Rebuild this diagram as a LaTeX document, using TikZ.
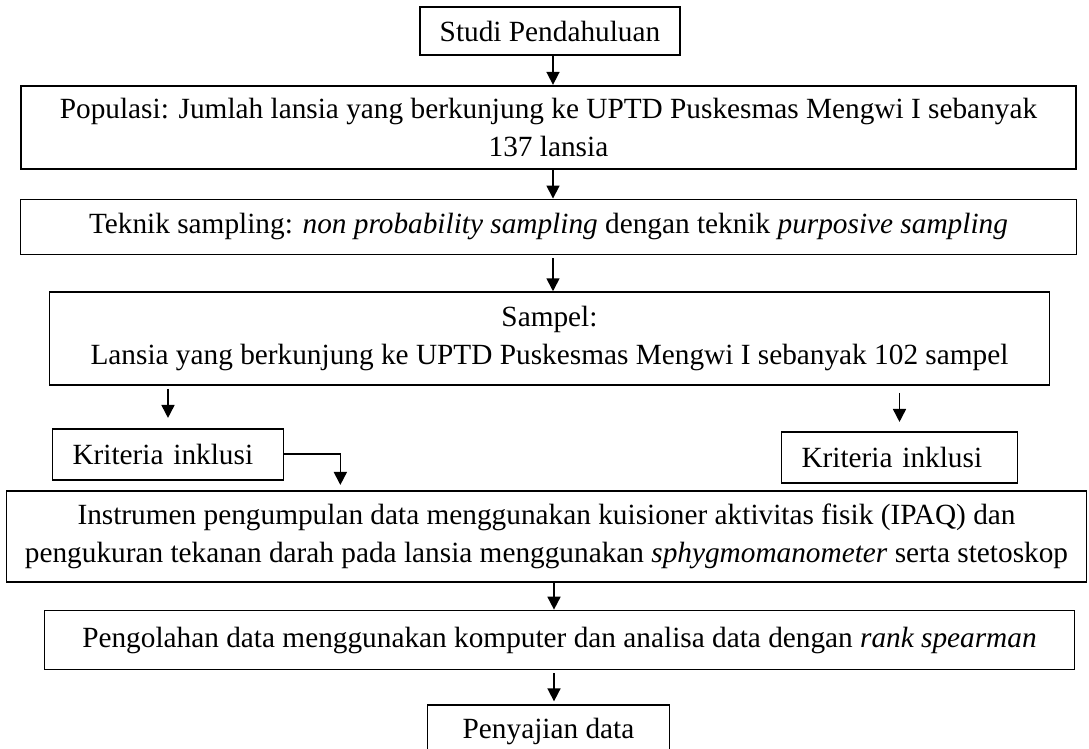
\documentclass[tikz,border=0pt]{standalone}
\usepackage{fontspec}
\setmainfont{Liberation Serif}
\usetikzlibrary{arrows.meta, positioning}
\tikzset{
    box/.style={draw, rectangle, inner sep=4pt, align=center, line width=1.7pt, font=\fontsize{29.3}{38}\selectfont},
    kriteria/.style={draw, rectangle, inner xsep=20pt, inner ysep=4pt, align=left, minimum height=51pt, line width=1.7pt, font=\fontsize{29.3}{38}\selectfont},
    arrow/.style={line width=1.7pt, -{Triangle[length=13pt, width=13pt]}}
}

\begin{document}
\begin{tikzpicture}[x=1pt, y=-1pt]
        \useasboundingbox (0,0) rectangle (1089,749);

        % Alur utama
        \node (studi) [box, minimum width=260pt, minimum height=48pt] at (550,31) {Studi Pendahuluan};
        \node (populasi) [box, minimum width=1055pt, minimum height=83pt, below=29pt of studi, xshift=-1.5pt] {Populasi: Jumlah lansia yang berkunjung ke UPTD Puskesmas Mengwi I sebanyak\\137 lansia};
        \node (teknik) [box, minimum width=1056pt, minimum height=55pt, below=29pt of populasi] {Teknik sampling: \textit{non probability sampling} dengan teknik \textit{purposive sampling}};
        \node (sampel) [box, minimum width=1000pt, minimum height=93pt, below=36pt of teknik, xshift=1pt] {Sampel:\\Lansia yang berkunjung ke UPTD Puskesmas Mengwi I sebanyak 102 sampel};

        % Kriteria
        \node (kiri) [kriteria, text width=191pt, below right=42pt and 3pt of sampel.south west, anchor=north west] {Kriteria inklusi};
        \node (kanan) [kriteria, text width=196pt, below left=45pt and 32pt of sampel.south east, anchor=north east] {Kriteria inklusi};

        \node (instrumen) [box, minimum width=1080pt, minimum height=91pt, below=104pt of sampel, xshift=-3pt] {Instrumen pengumpulan data menggunakan kuisioner aktivitas fisik (IPAQ) dan\\pengukuran tekanan darah pada lansia menggunakan \textit{sphygmomanometer} serta stetoskop};
        \node (pengolahan) [box, minimum width=1030pt, minimum height=59pt, below=27pt of instrumen, xshift=13pt] {Pengolahan data menggunakan komputer dan analisa data dengan \textit{rank spearman}};
        \node (penyajian) [box, minimum width=242pt, minimum height=52pt, below=34pt of pengolahan, xshift=-11pt] {Penyajian data};

        % Panah
        \draw [arrow] ([xshift=3pt]studi.south) -- ([xshift=3pt]studi.south |- populasi.north);
        \draw [arrow] ([xshift=3pt]studi.south |- populasi.south) -- ([xshift=3pt]studi.south |- teknik.north);
        \draw [arrow, shorten <=3pt] ([xshift=3pt]studi.south |- teknik.south) -- ([xshift=3pt]studi.south |- sampel.north);
        \draw [arrow, shorten <=3pt, shorten >=10pt] (sampel.south -| kiri.north) -- (kiri.north);
        \draw [arrow, shorten <=7pt, shorten >=9pt] (sampel.south -| kanan.north) -- (kanan.north);
        \draw [arrow, shorten >=5pt] (kiri.east) -| ([xshift=56pt]kiri.east |- instrumen.north);
        \draw [arrow] ([xshift=4pt]studi.south |- instrumen.south) -- ([xshift=4pt]studi.south |- pengolahan.north);
        \draw [arrow, shorten <=3pt, shorten >=3pt] ([xshift=4pt]studi.south |- pengolahan.south) -- ([xshift=4pt]studi.south |- penyajian.north);

\end{tikzpicture}
\end{document}
